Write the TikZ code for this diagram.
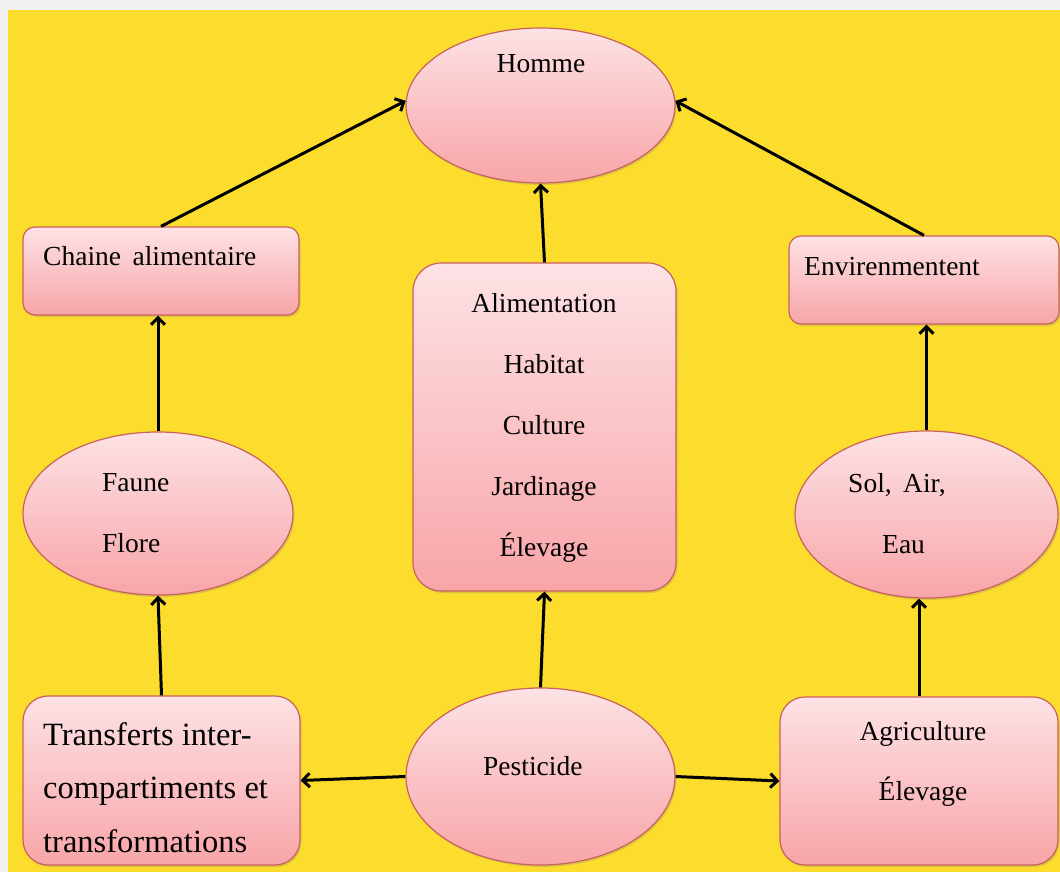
\documentclass[tikz,border=0pt]{standalone}
\usepackage{fontspec}
\setmainfont{Liberation Serif}
\usetikzlibrary{arrows.meta,shadows,calc,shapes.geometric}
\definecolor{bgyellow}{HTML}{FCDC2C}
\definecolor{bggray}{HTML}{F0F0F0}
\definecolor{pinktop}{HTML}{FDE2E5}
\definecolor{pinkbot}{HTML}{F8A5A8}
\definecolor{edgecol}{HTML}{C8625E}
\begin{document}
\begin{tikzpicture}[x=1pt,y=-1pt,
  shp/.style={draw=edgecol, line width=1.2pt, top color=pinktop, bottom color=pinkbot,
    drop shadow={opacity=0.25, shadow xshift=1.5pt, shadow yshift=-2pt}, inner sep=0pt},
  ell/.style={shp, ellipse},
  rbox/.style={shp, rectangle, rounded corners=#1},
  txt/.style={font=\fontsize{27.5}{33}\selectfont, inner sep=0pt, anchor=base},
  txtw/.style={txt, anchor=base west},
  bigtxt/.style={font=\fontsize{32.5}{39}\selectfont, inner sep=0pt, anchor=base west},
  arr/.style={line width=3pt, -{Straight Barb[length=7pt, width=14pt, line width=3pt]}}
]
\useasboundingbox (0,0) rectangle (1060,872);
\fill[bggray] (0,0) rectangle (1060,872);
\fill[bgyellow] (8,10) rectangle (1060,872);

% shapes
\node[ell, minimum width=269pt, minimum height=155pt] (homme) at (540.5,105.5) {};
\node[rbox=12pt, minimum width=276pt, minimum height=88pt] (chaine) at (161,271) {};
\node[rbox=12pt, minimum width=270pt, minimum height=88pt] (env) at (924,280) {};
\node[rbox=28pt, minimum width=263pt, minimum height=328pt] (centre) at (544.5,427) {};
\node[ell, minimum width=270pt, minimum height=163pt] (faune) at (158,513.5) {};
\node[ell, minimum width=263pt, minimum height=167pt] (sol) at (926.5,514.5) {};
\node[rbox=25pt, minimum width=277pt, minimum height=169pt] (transf) at (161.5,780.5) {};
\node[ell, minimum width=269pt, minimum height=177pt] (pest) at (540.5,776.5) {};
\node[rbox=25pt, minimum width=278pt, minimum height=168pt] (agri) at (919,781) {};

% texts
\node[txt] (tHomme) at (541,73) {Homme};
\node[txtw] (tChaine) at (43,265) {Chaine\, alimentaire};
\node[txtw] (tEnv) at (804,275) {Envirenmentent};
\node[txt] (tAlim) at (544,312) {Alimentation};
\node[txt] (tHab) at (544,373) {Habitat};
\node[txt] (tCult) at (544,434) {Culture};
\node[txt] (tJard) at (544,495) {Jardinage};
\node[txt] (tElev) at (544,556) {Élevage};
\node[txtw] (tFaune) at (102,491) {Faune};
\node[txtw] (tFlore) at (102,552) {Flore};
\node[txtw] (tSol) at (848,492) {Sol,\, Air,};
\node[txtw] (tEau) at (882,553) {Eau};
\node[txtw] (tPest) at (483,775) {Pesticide};
\node[bigtxt] (tTr1) at (43,745) {Transferts inter-};
\node[bigtxt] (tTr2) at (43,798) {compartiments et};
\node[bigtxt] (tTr3) at (43,852) {transformations};
\node[txt] (tAgri) at (923,740) {Agriculture};
\node[txt] (tElev2) at (923,800) {Élevage};

% connectors
\draw[arr] (chaine.north) -- (homme.178);
\draw[arr] (env.north) -- (homme.2);
\draw[arr] (centre.north) -- (homme.south);
\draw[arr] (faune.north) -- (faune.north |- chaine.south);
\draw[arr] (sol.north) -- (sol.north |- env.south);
\draw[arr] (transf.north) -- (faune.south);
\draw[arr] (pest.north) -- (centre.south);
\draw[arr] (agri.north) -- (agri.north |- sol.south);
\draw[arr] (pest.west) -- (transf.east);
\draw[arr] (pest.east) -- (agri.west);
\end{tikzpicture}
\end{document}
